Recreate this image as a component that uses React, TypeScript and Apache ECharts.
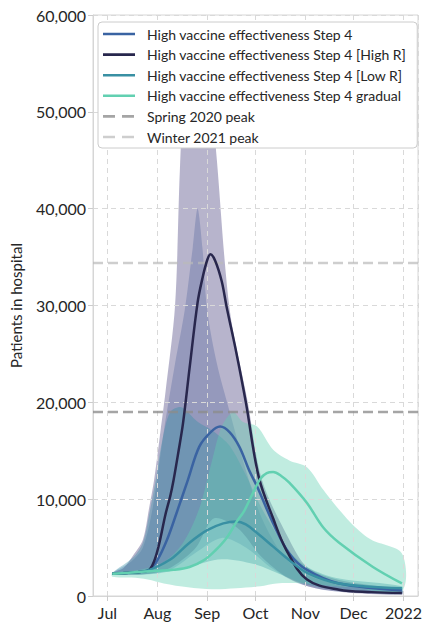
import React, { useEffect, useRef } from 'react';
import * as echarts from 'echarts';

type Pt = [string, number];

const seriesNames = [
  'High vaccine effectiveness Step 4',
  'High vaccine effectiveness Step 4 [High R]',
  'High vaccine effectiveness Step 4 [Low R]',
  'High vaccine effectiveness Step 4 gradual',
];
const peakNames = ['Spring 2020 peak', 'Winter 2021 peak'];
const peakValues = [19000, 34400];

const xTickDates = ['2021-07-01', '2021-08-01', '2021-09-01', '2021-10-01', '2021-11-01', '2021-12-01', '2022-01-01'];
const xTickLabels = ['Jul', 'Aug', 'Sep', 'Oct', 'Nov', 'Dec', '2022'];
const xRange = ['2021-06-22', '2022-01-10'];
const yTicks = [0, 10000, 20000, 30000, 40000, 50000, 60000];

// Central projections
const step4: Pt[] = [
  ['2021-07-04', 2300], ['2021-07-14', 2400], ['2021-07-22', 2500], ['2021-07-27', 2700],
  ['2021-08-01', 3700], ['2021-08-07', 5800], ['2021-08-13', 8600], ['2021-08-20', 12000],
  ['2021-08-27', 15400], ['2021-09-03', 16900], ['2021-09-09', 17500], ['2021-09-15', 16900],
  ['2021-09-21', 15400], ['2021-09-27', 13000], ['2021-10-02', 11300], ['2021-10-12', 7500],
  ['2021-10-22', 4400], ['2021-11-02', 2700], ['2021-11-22', 1300], ['2021-12-31', 600],
];
const highR: Pt[] = [
  ['2021-07-04', 2300], ['2021-07-14', 2400], ['2021-07-22', 2500], ['2021-07-27', 2700],
  ['2021-07-30', 3600], ['2021-08-02', 5300], ['2021-08-06', 8400], ['2021-08-09', 10300],
  ['2021-08-11', 11900], ['2021-08-14', 14800], ['2021-08-17', 17900], ['2021-08-21', 23500],
  ['2021-08-26', 30300], ['2021-08-29', 32800], ['2021-09-01', 34700], ['2021-09-03', 35300],
  ['2021-09-06', 34600], ['2021-09-10', 32500], ['2021-09-13', 29900], ['2021-09-19', 25200],
  ['2021-09-25', 20000], ['2021-10-03', 12300], ['2021-10-12', 8000], ['2021-10-20', 4800],
  ['2021-11-02', 1700], ['2021-11-22', 650], ['2021-12-12', 400], ['2021-12-31', 300],
];
const lowR: Pt[] = [
  ['2021-07-04', 2300], ['2021-07-14', 2400], ['2021-07-22', 2500], ['2021-07-27', 2700],
  ['2021-08-03', 3200], ['2021-08-11', 4000], ['2021-08-21', 5500], ['2021-09-01', 6800],
  ['2021-09-11', 7500], ['2021-09-19', 7700], ['2021-09-25', 7400], ['2021-10-02', 6500],
  ['2021-10-12', 5100], ['2021-10-22', 3700], ['2021-11-02', 2400], ['2021-11-22', 1300],
  ['2021-12-31', 800],
];
const gradual: Pt[] = [
  ['2021-07-04', 2300], ['2021-07-14', 2400], ['2021-07-22', 2500], ['2021-08-01', 2600],
  ['2021-08-11', 2700], ['2021-08-21', 3000], ['2021-08-30', 3700], ['2021-09-06', 4700],
  ['2021-09-13', 6000], ['2021-09-19', 7600], ['2021-09-24', 8800], ['2021-09-29', 10500],
  ['2021-10-04', 12100], ['2021-10-08', 12700], ['2021-10-12', 12800], ['2021-10-17', 12400],
  ['2021-10-22', 11700], ['2021-11-02', 9600], ['2021-11-12', 7100], ['2021-11-22', 5500],
  ['2021-12-13', 3000], ['2021-12-31', 1300],
];

// Uncertainty bands
const step4Upper: Pt[] = [
  ['2021-07-04', 2400], ['2021-07-16', 3600], ['2021-07-23', 5000], ['2021-07-29', 9000],
  ['2021-08-05', 17000], ['2021-08-12', 24000], ['2021-08-18', 29500], ['2021-08-23', 36000],
  ['2021-08-26', 40000], ['2021-08-29', 36000], ['2021-09-01', 29500], ['2021-09-07', 24000],
  ['2021-09-15', 19000], ['2021-09-25', 13000], ['2021-10-05', 8000], ['2021-10-19', 4000],
  ['2021-11-02', 2200], ['2021-11-22', 1200], ['2021-12-31', 500],
];
const step4Lower: Pt[] = [
  ['2021-07-04', 2200], ['2021-07-27', 2300], ['2021-08-10', 2800], ['2021-08-25', 4500],
  ['2021-09-10', 6000], ['2021-09-25', 5000], ['2021-10-10', 3000], ['2021-10-25', 1500],
  ['2021-11-10', 700], ['2021-12-01', 350], ['2021-12-31', 150],
];
const highRUpper: Pt[] = [
  ['2021-07-04', 2400], ['2021-07-11', 2900], ['2021-07-17', 4200], ['2021-07-23', 5800],
  ['2021-07-27', 9200], ['2021-07-30', 12000], ['2021-08-03', 17100], ['2021-08-06', 21000],
  ['2021-08-12', 30000], ['2021-08-15', 44000], ['2021-08-18', 53000], ['2021-08-23', 57000],
  ['2021-08-29', 57000], ['2021-09-03', 53000], ['2021-09-07', 45000], ['2021-09-15', 29500],
  ['2021-09-26', 20200], ['2021-10-05', 12000], ['2021-10-22', 5800], ['2021-11-02', 3000],
  ['2021-11-22', 1650], ['2021-12-31', 600],
];
const highRLower: Pt[] = [
  ['2021-07-04', 2200], ['2021-07-27', 2300], ['2021-08-10', 3000], ['2021-08-25', 5000],
  ['2021-09-05', 8000], ['2021-09-20', 7000], ['2021-10-05', 4000], ['2021-10-20', 2000],
  ['2021-11-05', 900], ['2021-11-25', 400], ['2021-12-31', 150],
];
const lowRUpper: Pt[] = [
  ['2021-07-04', 2400], ['2021-07-17', 4000], ['2021-07-23', 5500], ['2021-07-27', 8500],
  ['2021-07-31', 12000], ['2021-08-04', 16000], ['2021-08-09', 19000], ['2021-08-16', 19500],
  ['2021-08-26', 18000], ['2021-09-05', 17000], ['2021-09-15', 15500], ['2021-09-25', 12500],
  ['2021-10-05', 9000], ['2021-10-20', 5000], ['2021-11-02', 3000], ['2021-11-22', 1800],
  ['2021-12-31', 1000],
];
const lowRLower: Pt[] = [
  ['2021-07-04', 2200], ['2021-07-31', 2300], ['2021-08-20', 3000], ['2021-09-10', 3800],
  ['2021-09-30', 3300], ['2021-10-20', 2000], ['2021-11-02', 1200], ['2021-11-22', 600],
  ['2021-12-31', 300],
];
const gradualUpper: Pt[] = [
  ['2021-07-04', 2400], ['2021-07-21', 2700], ['2021-08-05', 3500], ['2021-08-17', 5500],
  ['2021-08-27', 9000], ['2021-09-04', 14000], ['2021-09-10', 17500], ['2021-09-17', 19000],
  ['2021-09-23', 18000], ['2021-10-02', 17500], ['2021-10-12', 15100], ['2021-10-22', 14000],
  ['2021-11-02', 13300], ['2021-11-12', 11000], ['2021-11-22', 8900], ['2021-12-02', 7100],
  ['2021-12-12', 5800], ['2021-12-31', 4400],
];
const gradualLower: Pt[] = [
  ['2021-07-04', 2000], ['2021-07-16', 1900], ['2021-07-26', 1700], ['2021-08-05', 1300],
  ['2021-08-20', 900], ['2021-09-04', 700], ['2021-09-19', 800], ['2021-10-04', 1000],
  ['2021-10-14', 1300], ['2021-10-30', 1300], ['2021-11-29', 900], ['2021-12-31', 600],
];

const lineColors = ['#3a63a2', '#28274d', '#3990a3', '#62d0b1'];
const bandColors = [
  'rgba(58,99,162,0.28)',
  'rgba(66,58,122,0.38)',
  'rgba(52,143,165,0.38)',
  'rgba(98,208,177,0.4)',
];
const peakColors = ['rgba(140,140,140,0.78)', 'rgba(185,185,185,0.7)'];

// legend icons (32 x 14 box)
const iconSolid = 'path://M0,5.7h32v2.6H0z M0,0h0.01v0.01H0z M31.99,13.99h0.01v0.01h-0.01z';
const iconDashed = 'path://M0,5.7h12v2.6H0z M19,5.7h12v2.6h-12z M0,0h0.01v0.01H0z M31.99,13.99h0.01v0.01h-0.01z';

function toTs(s: string): number {
  const [y, m, d] = s.split('-').map(Number);
  return new Date(y, m - 1, d).getTime();
}

function bandSeries(name: string, upper: Pt[], lower: Pt[], color: string, z: number) {
  return {
    type: 'custom',
    name: name + ' band',
    silent: true,
    clip: true,
    z,
    data: [[toTs(upper[0][0]), upper[0][1]]],
    encode: { x: 0, y: 1 },
    renderItem: (params: any, api: any) => {
      const pts = [
        ...upper.map((p) => api.coord([toTs(p[0]), p[1]])),
        ...lower.slice().reverse().map((p) => api.coord([toTs(p[0]), p[1]])),
      ];
      const cs = params.coordSys;
      const clipped = echarts.graphic.clipPointsByRect(pts, {
        x: cs.x, y: cs.y, width: cs.width, height: cs.height,
      });
      return {
        type: 'polygon',
        shape: { points: clipped, smooth: 0.3 },
        style: { fill: color, stroke: 'none' },
      };
    },
  };
}

export default function App() {
  const ref = useRef<HTMLDivElement>(null);
  useEffect(() => {
    document.body.style.margin = '0';
    const chart = echarts.init(ref.current!, null, { renderer: 'svg' });
    const lines = [step4, highR, lowR, gradual];
    const uppers = [step4Upper, highRUpper, lowRUpper, gradualUpper];
    const lowers = [step4Lower, highRLower, lowRLower, gradualLower];
    const tickMap = new Map<number, string>();
    xTickDates.forEach((d, i) => tickMap.set(toTs(d), xTickLabels[i]));
    const xMin = toTs(xRange[0]);
    const xMax = toTs(xRange[1]);

    const series: any[] = [];
    seriesNames.forEach((n, i) => series.push(bandSeries(n, uppers[i], lowers[i], bandColors[i], 2)));
    peakNames.forEach((n, i) =>
      series.push({
        type: 'line',
        name: n,
        z: 4,
        symbol: 'none',
        silent: true,
        data: [[xMin, peakValues[i]], [xMax, peakValues[i]]],
        lineStyle: { color: peakColors[i], width: 2.5, type: [10, 5] },
        itemStyle: { color: peakColors[i] },
      })
    );
    seriesNames.forEach((n, i) =>
      series.push({
        type: 'line',
        name: n,
        z: 5,
        symbol: 'none',
        smooth: 0.35,
        data: lines[i].map((p) => [toTs(p[0]), p[1]]),
        lineStyle: { color: lineColors[i], width: 2.5 },
        itemStyle: { color: lineColors[i] },
      })
    );

    chart.setOption({
      animation: false,
      backgroundColor: '#ffffff',
      textStyle: { fontFamily: 'Lato' },
      grid: {
        left: 93, right: 9, top: 15, bottom: 32,
        show: true, borderColor: '#d6d6d6', borderWidth: 1,
      },
      legend: {
        data: [
          ...seriesNames.map((n) => ({ name: n, icon: iconSolid })),
          ...peakNames.map((n) => ({ name: n, icon: iconDashed })),
        ],
        orient: 'vertical',
        left: 98,
        top: 22,
        itemWidth: 32,
        itemHeight: 14,
        itemGap: 6.6,
        padding: [5, 11, 4, 5],
        backgroundColor: '#ffffff',
        borderColor: '#cccccc',
        borderWidth: 1,
        borderRadius: 4,
        z: 10,
        textStyle: { fontFamily: 'Lato', fontSize: 14, color: '#262626', padding: [0, 0, 0, 7] },
      },
      xAxis: {
        type: 'time',
        min: xMin,
        max: xMax,
        z: 3,
        minInterval: 28 * 86400000,
        maxInterval: 31 * 86400000,
        axisLine: { show: true, lineStyle: { color: '#d6d6d6', width: 1 } },
        axisTick: { show: true, length: 5, lineStyle: { color: '#cccccc' } },
        splitLine: { show: true, lineStyle: { color: '#d9d9d9', type: [5, 4], width: 1 } },
        axisLabel: {
          fontFamily: 'Lato', fontSize: 16, color: '#262626', margin: 8,
          showMinLabel: false, showMaxLabel: false,
          formatter: (v: number) => tickMap.get(v) ?? '',
        },
      },
      yAxis: {
        type: 'value',
        min: yTicks[0],
        max: yTicks[yTicks.length - 1],
        interval: yTicks[1] - yTicks[0],
        z: 3,
        name: 'Patients in hospital',
        nameLocation: 'middle',
        nameGap: 70,
        nameTextStyle: { fontFamily: 'Lato', fontSize: 15, color: '#262626' },
        axisLine: { show: true, lineStyle: { color: '#d6d6d6', width: 1 } },
        axisTick: { show: true, length: 5, lineStyle: { color: '#cccccc' } },
        splitLine: { show: true, lineStyle: { color: '#d9d9d9', type: [5, 4], width: 1 } },
        axisLabel: {
          fontFamily: 'Lato', fontSize: 16, color: '#262626', margin: 7,
          formatter: (v: number) => v.toLocaleString('en-US'),
        },
      },
      series,
    });
    return () => chart.dispose();
  }, []);
  return <div ref={ref} style={{ width: 427, height: 628 }} />;
}
